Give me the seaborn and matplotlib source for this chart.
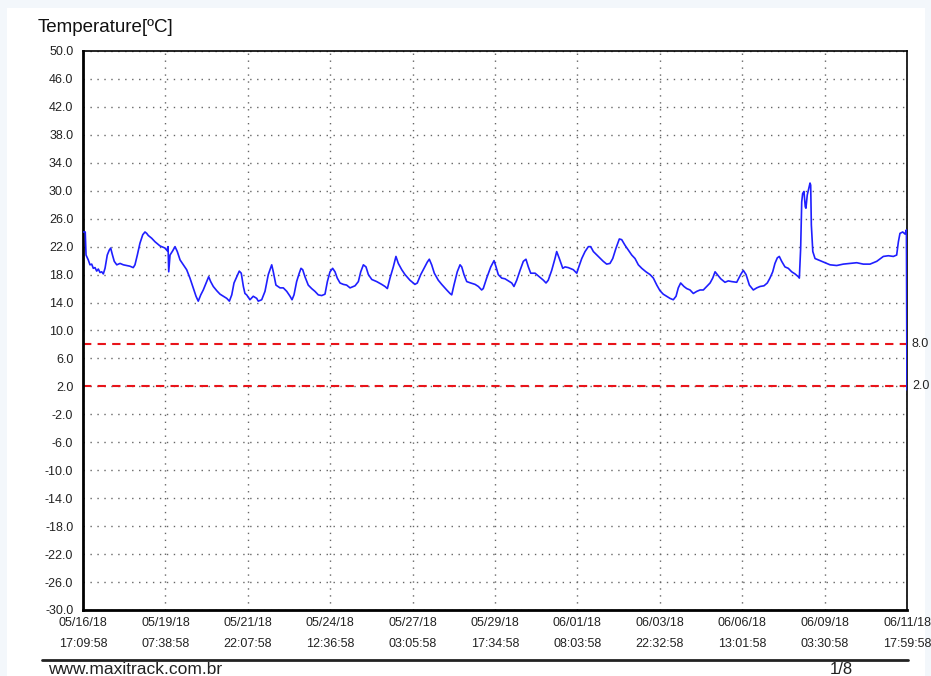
import pandas as pd
import matplotlib.pyplot as plt
import matplotlib.patches as mpatches
import seaborn as sns

# Data: hours since 05/16/18 17:09:58 and temperature (C)
hours = [0.0, 1.7, 2.3, 4.0, 5.3, 6.6, 7.8, 9.1, 10.4, 11.6, 12.9, 14.2, 15.4, 16.7, 18.4, 19.9,
         21.0, 22.2, 23.7, 25.6, 28.1, 30.6, 33.1, 35.6, 38.1, 39.4, 41.2, 43.2, 45.3, 47.0, 48.3,
         49.5, 52.1, 54.6, 58.4, 62.2, 63.9, 64.5, 65.0, 66.0, 68.0, 69.8, 71.5, 73.6, 76.1, 78.6,
         81.1, 83.6, 85.7, 87.4, 89.3, 91.2, 93.8, 95.3, 96.8, 98.8, 101.4, 103.9, 106.4, 109.0,
         111.0, 112.8, 114.5, 116.6, 118.5, 120.0, 121.6, 122.8, 124.1, 126.6, 129.1, 131.7,
         132.9, 135.5, 138.0, 140.5, 143.1, 144.3, 146.3, 149.4, 151.9, 154.5, 157.0, 158.5,
         160.0, 162.0, 163.8, 165.3, 166.6, 168.3, 170.8, 173.4, 175.9, 178.4, 181.0, 183.5,
         185.3, 187.3, 189.3, 191.1, 192.8, 194.9, 197.4, 199.9, 202.5, 206.3, 208.8, 210.6,
         212.6, 214.6, 216.4, 219.0, 222.7, 226.5, 229.0, 230.8, 232.8, 235.3, 237.3, 239.1,
         241.7, 244.2, 247.9, 251.7, 253.5, 256.1, 258.6, 261.1, 262.6, 264.4, 266.4, 269.4,
         272.0, 275.8, 278.3, 279.6, 281.3, 283.8, 285.9, 287.2, 288.9, 291.0, 294.0, 297.3,
         299.8, 302.3, 303.5, 306.1, 309.2, 311.7, 313.2, 314.9, 317.5, 320.0, 322.5, 325.1,
         326.8, 328.9, 331.4, 333.9, 335.9, 337.7, 339.5, 342.8, 346.0, 349.1, 351.1, 352.8,
         355.4, 357.9, 359.2, 361.2, 363.8, 365.5, 368.0, 371.8, 374.4, 375.6, 378.2, 380.7,
         383.2, 385.0, 387.0, 390.8, 394.5, 397.1, 399.6, 401.7, 404.2, 406.7, 408.5, 411.0,
         413.5, 416.1, 418.6, 421.1, 423.7, 426.9, 430.0, 432.5, 435.1, 437.5, 440.0, 442.6,
         445.1, 447.6, 449.7, 451.4, 453.2, 455.7, 457.8, 460.3, 462.8, 465.4, 467.9, 470.4,
         473.0, 475.5, 477.5, 479.3, 481.0, 483.6, 486.8, 489.3, 491.9, 495.7, 498.7, 500.7,
         502.8, 505.3, 508.3, 510.9, 513.4, 516.4, 518.9, 520.9, 523.0, 524.7, 526.5, 528.0,
         529.8, 532.3, 534.8, 537.4, 539.9, 542.4, 543.2, 544.2, 545.0, 545.7, 546.7, 547.7,
         548.2, 549.2, 550.3, 551.3, 551.8, 552.3, 553.4, 555.1, 558.9, 561.4, 566.5, 571.5,
         576.5, 581.6, 586.7, 591.7, 596.8, 601.9, 606.9, 610.7, 614.5, 617.0, 618.3, 619.5,
         621.6, 623.3, 624.4, 624.8]
temps = [24.1, 24.1, 20.8, 20.1, 19.4, 19.5, 18.9, 19.0, 18.5, 18.8, 18.3, 18.4, 18.1, 18.9, 20.8, 21.5,
         21.8, 20.9, 19.9, 19.4, 19.6, 19.4, 19.3, 19.2, 19.0, 19.4, 20.8, 22.5, 23.7, 24.1, 23.9,
         23.6, 23.2, 22.7, 22.1, 21.8, 21.4, 22.0, 18.4, 20.8, 21.4, 22.0, 21.3, 20.1, 19.4, 18.7,
         17.5, 16.1, 14.9, 14.2, 15.1, 15.8, 17.0, 17.7, 17.0, 16.3, 15.7, 15.2, 14.9, 14.6,
         14.2, 15.1, 16.8, 17.7, 18.5, 18.2, 16.3, 15.3, 15.1, 14.4, 14.9, 14.6,
         14.2, 14.4, 15.6, 18.0, 19.4, 18.4, 16.5, 16.1, 16.1, 15.6, 14.9, 14.4,
         15.1, 17.0, 18.1, 18.9, 18.7, 17.7, 16.5, 16.0, 15.6, 15.1, 15.0, 15.2,
         17.0, 18.4, 18.9, 18.4, 17.5, 16.8, 16.6, 16.5, 16.1, 16.4, 17.0, 18.4,
         19.4, 19.1, 18.0, 17.3, 17.0, 16.6, 16.3, 16.0, 17.5, 19.1, 20.6, 19.6,
         18.7, 18.0, 17.2, 16.6, 16.8, 18.0, 18.9, 19.8, 20.2, 19.4, 18.2, 17.2,
         16.6, 15.8, 15.3, 15.1, 16.5, 18.4, 19.4, 19.1, 18.0, 17.0, 16.8, 16.6,
         16.3, 15.8, 16.0, 17.5, 19.1, 20.0, 19.1, 18.0, 17.5, 17.4, 17.1, 16.8,
         16.3, 17.2, 18.6, 19.9, 20.2, 19.1, 18.2, 18.2, 17.7, 17.2, 16.8, 17.2,
         18.6, 20.3, 21.3, 20.3, 18.9, 19.1, 19.0, 18.7, 18.2, 18.9, 20.3, 21.3,
         22.0, 22.0, 21.3, 20.6, 19.9, 19.5, 19.6, 20.3, 21.8, 23.1, 23.0, 22.2,
         21.5, 20.8, 20.3, 19.4, 18.9, 18.4, 18.0, 17.5, 16.5, 15.7, 15.2, 14.9,
         14.6, 14.4, 14.9, 16.1, 16.8, 16.3, 16.0, 15.8, 15.3, 15.6, 15.8, 15.8,
         16.3, 16.8, 17.5, 18.4, 18.0, 17.4, 16.9, 17.1, 17.0, 16.9, 18.0, 18.6,
         18.0, 16.5, 15.8, 16.1, 16.3, 16.4, 16.8, 17.5, 18.4, 19.6, 20.4, 20.6,
         19.9, 19.1, 18.9, 18.4, 18.1, 17.7, 17.5, 21.8, 28.4, 29.6, 29.9, 27.7,
         27.5, 29.4, 30.3, 31.1, 30.8, 25.1, 21.3, 20.3, 20.0, 19.8, 19.4, 19.3,
         19.5, 19.6, 19.7, 19.5, 19.5, 19.9, 20.6, 20.7, 20.6, 20.8, 22.7, 23.9,
         24.1, 23.8, 24.4, 1.5]

x_tick_labels = ["05/16/18\n17:09:58", "05/19/18\n07:38:58", "05/21/18\n22:07:58",
                 "05/24/18\n12:36:58", "05/27/18\n03:05:58", "05/29/18\n17:34:58",
                 "06/01/18\n08:03:58", "06/03/18\n22:32:58", "06/06/18\n13:01:58",
                 "06/09/18\n03:30:58", "06/11/18\n17:59:58"]
total_hours = 624.8333
y_ticks = list(range(-30, 51, 4))
limits = [8.0, 2.0]

sns.set_theme(style="white")
plt.rcParams['font.family'] = ['Liberation Sans', 'DejaVu Sans']

df = pd.DataFrame({"hours": hours, "temp": temps})

fig = plt.figure(figsize=(9.31, 6.76), dpi=100, facecolor="#f3f7fb")
# white page behind everything
fig.patches.append(mpatches.Rectangle((7 / 931, 0), 918 / 931, 1 - 8 / 676,
                                      transform=fig.transFigure, facecolor="white",
                                      edgecolor="none", zorder=-10))
ax = fig.add_axes([83 / 931, 1 - 610 / 676, 824 / 931, 559 / 676])
ax.set_facecolor("white")

sns.lineplot(data=df, x="hours", y="temp", ax=ax, color="#1f1fff", linewidth=1.2,
             estimator=None, sort=False, zorder=3)

for v in limits:
    ax.axhline(v, color="#e8141a", linestyle=(0, (4, 3)), linewidth=1.5, zorder=2)
    ax.text(1.006, v, f"{v:.1f}", transform=ax.get_yaxis_transform(), ha="left",
            va="center", fontsize=9, color="#222222")

step = total_hours / (len(x_tick_labels) - 1)
ax.set_xticks([i * step for i in range(len(x_tick_labels))])
ax.set_xticklabels(x_tick_labels, linespacing=2.05)
ax.set_yticks(y_ticks)
ax.set_yticklabels([f"{t:.1f}" for t in y_ticks])
ax.set_xlim(0, total_hours)
ax.set_ylim(-30, 50)
ax.set_xlabel("")
ax.set_ylabel("")
ax.tick_params(axis="both", length=0, labelsize=9, colors="#222222")
ax.tick_params(axis="y", pad=7)
ax.tick_params(axis="x", pad=5)

ax.grid(True, color="#666666", linestyle=(0, (1, 4)), linewidth=1.0)
for side in ["left", "bottom"]:
    ax.spines[side].set_linewidth(2.0)
for side in ["top", "right"]:
    ax.spines[side].set_linewidth(1.2)
for s in ax.spines.values():
    s.set_color("black")

fig.text(38 / 931, 1 - 27 / 676, "Temperature[ºC]", fontsize=13.5, va="center", ha="left",
         color="#111111")
fig.add_artist(plt.Line2D([42 / 931, 908 / 931], [1 - 660 / 676, 1 - 660 / 676],
                          transform=fig.transFigure, color="#222222", linewidth=2))
fig.text(48 / 931, 1 - 674 / 676, "www.maxitrack.com.br", fontsize=12.5, va="baseline",
         ha="left", color="#222222")
fig.text(841 / 931, 1 - 674 / 676, "1/8", fontsize=12, va="baseline", ha="center",
         color="#222222")

fig.savefig("out.png", dpi=100, facecolor=fig.get_facecolor())
